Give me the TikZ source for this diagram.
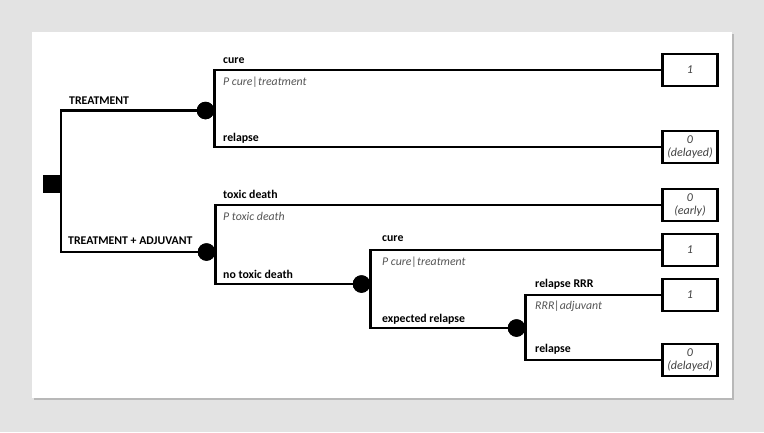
\documentclass[tikz,border=0pt]{standalone}
\usepackage{fontspec}
\setmainfont{Carlito}
\definecolor{bggray}{HTML}{E3E3E3}
\definecolor{shadowgray}{HTML}{B8B8B8}
\definecolor{probgray}{HTML}{555555}
\definecolor{valgray}{HTML}{404040}
\begin{document}
\begin{tikzpicture}[x=1pt,y=-1pt,
  branch/.style={line width=2.2pt},
  chance/.style={circle,fill=black,inner sep=0pt,minimum size=17.5pt},
  decision/.style={rectangle,fill=black,inner sep=0pt,minimum size=18pt},
  payoff/.style={rectangle,draw=black,line width=2.4pt,fill=white,minimum width=55pt,minimum height=32pt,inner sep=1pt,align=center,font=\fontsize{12}{13.5}\selectfont\itshape,text=valgray},
  lbl/.style={anchor=west,inner sep=0pt,font=\fontsize{11.8}{13}\selectfont\bfseries},
  prob/.style={anchor=west,inner sep=0pt,font=\fontsize{11.8}{13}\selectfont\itshape,text=probgray}]
\useasboundingbox (0,0) rectangle (764,432);
\fill[bggray] (0,0) rectangle (764,432);
\fill[shadowgray] (33.5,33.5) rectangle (734,400);
\fill[white] (32,32) rectangle (732,398);
% nodes
\node[decision] (d) at (52,184) {};
\node[chance] (c1) at (205.5,110.5) {};
\node[chance] (c2) at (206.5,252) {};
\node[chance] (c3) at (361.5,284) {};
\node[chance] (c4) at (516.5,328) {};
\node[payoff] (b1) at (690,70) {1};
\node[payoff] (b2) at (690,147) {0\\(delayed)};
\node[payoff] (b3) at (690,205) {0\\(early)};
\node[payoff] (b4) at (690,250) {1};
\node[payoff] (b5) at (690,295) {1};
\node[payoff] (b6) at (690,360) {0\\(delayed)};
% connectors
\draw[branch] (d.east) |- (c1);
\draw[branch] (d.east) |- (c2);
\draw[branch] (c1.east) |- (b1);
\draw[branch] (c1.east) |- (b2);
\draw[branch] (c2.east) |- (b3);
\draw[branch] (c2.east) |- (c3);
\draw[branch] (c3.east) |- (b4);
\draw[branch] (c3.east) |- (c4);
\draw[branch] (c4.east) |- (b5);
\draw[branch] (c4.east) |- (b6);
\node[chance] at (c1) {};
\node[chance] at (c2) {};
\node[chance] at (c3) {};
\node[chance] at (c4) {};
% labels
\node[lbl] (t1) at (69,101) {TREATMENT};
\node[lbl] (t2) at (68,241) {TREATMENT + ADJUVANT};
\node[lbl] (l1) at (223,61) {cure};
\node[prob] (p1) at (223,82) {P cure|treatment};
\node[lbl] (l2) at (223,138) {relapse};
\node[lbl] (l3) at (223,194) {toxic death};
\node[prob] (p3) at (223,216) {P toxic death};
\node[lbl] (l4) at (223,274) {no toxic death};
\node[lbl] (l5) at (382,239) {cure};
\node[prob] (p5) at (382,262) {P cure|treatment};
\node[lbl] (l6) at (382,319) {expected relapse};
\node[lbl] (l7) at (535,284) {relapse RRR};
\node[prob] (p7) at (535,306) {RRR|adjuvant};
\node[lbl] (l8) at (535,349) {relapse};
\end{tikzpicture}
\end{document}
